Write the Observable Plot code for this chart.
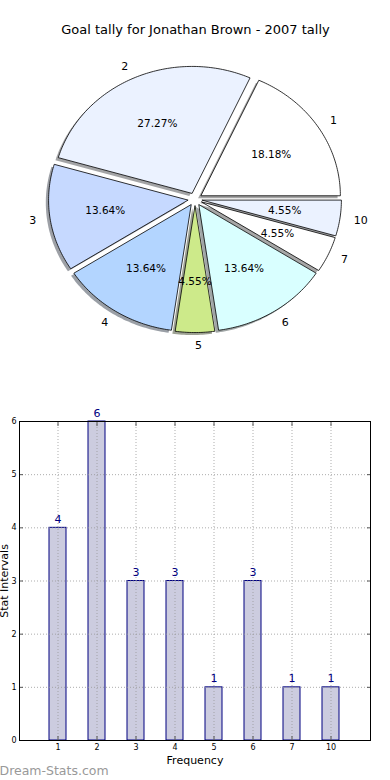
<!DOCTYPE html>
<html><head><meta charset="utf-8">
<script src="https://cdn.jsdelivr.net/npm/d3@7"></script>
<script src="https://cdn.jsdelivr.net/npm/@observablehq/plot@0.6"></script>
<style>body{margin:0;background:#fff;font-family:"DejaVu Sans",sans-serif} svg{display:block}</style>
</head><body><div id="chart"></div>
<script>
const title = "Goal tally for Jonathan Brown - 2007 tally";
const categories = ["1","2","3","4","5","6","7","10"];
const values = [4,6,3,3,1,3,1,1];
const sliceColors = ["#ffffff","#ebf2ff","#c6d9ff","#b3d5ff","#cdea8a","#d9ffff","#ffffff","#ebf2ff"];
const yTicks = [0,1,2,3,4,5,6];
const xLabel = "Frequency";
const yLabel = "Stat Intervals";
const watermark = "Dream-Stats.com";

const total = d3.sum(values);
const explode = 0.05, labelDist = 1.1, pctDist = 0.6, shadowOff = 0.02;
let cum = 0;
const slices = values.map((v, i) => {
  const a0 = cum / total * 2 * Math.PI; cum += v; const a1 = cum / total * 2 * Math.PI;
  const m = (a0 + a1) / 2;
  const ox = explode * Math.cos(m), oy = explode * Math.sin(m);
  const n = Math.max(2, Math.ceil((a1 - a0) / (Math.PI / 180)));
  const pts = [{x: ox, y: oy}];
  for (let k = 0; k <= n; k++) { const a = a0 + (a1 - a0) * k / n; pts.push({x: ox + Math.cos(a), y: oy + Math.sin(a)}); }
  pts.push({x: ox, y: oy});
  return {key: categories[i], value: v, color: sliceColors[i], pts,
    lx: ox + labelDist * Math.cos(m), ly: oy + labelDist * Math.sin(m),
    px: ox + pctDist * Math.cos(m), py: oy + pctDist * Math.sin(m),
    pct: (v / total * 100).toFixed(2) + "%"};
});
const shade = c => { const r = d3.rgb(c); return d3.rgb(r.r * 0.3, r.g * 0.3, r.b * 0.3).formatHex(); };

const W = 390, PH = 370;
const cx = 194.5, cy = 198.7, rx = 139.5, ry = 127;
const font = "DejaVu Sans";

const pie = Plot.plot({
  width: W, height: PH, margin: 0,
  style: {fontFamily: font, background: "#fff", overflow: "visible"},
  x: {domain: [-cx / rx, (W - cx) / rx], axis: null},
  y: {domain: [-(PH - cy) / ry, cy / ry], axis: null},
  marks: [
    ...slices.map(s => Plot.line(s.pts, {x: d => d.x - shadowOff, y: d => d.y - shadowOff, fill: shade(s.color), fillOpacity: 0.5, stroke: "none"})),
    ...slices.map(s => Plot.line(s.pts, {x: "x", y: "y", fill: s.color, stroke: "black", strokeWidth: 0.8, strokeLinejoin: "miter", strokeLinecap: "butt"})),
    Plot.text(slices.filter(s => s.lx > -1e-6), {x: "lx", y: "ly", text: "key", textAnchor: "start", fontSize: 11, fill: "black"}),
    Plot.text(slices.filter(s => s.lx <= -1e-6), {x: "lx", y: "ly", text: "key", textAnchor: "end", fontSize: 11, fill: "black"}),
    Plot.text(slices, {x: "px", y: "py", text: "pct", fontSize: 10.5, fill: "black"}),
    Plot.text([title], {frameAnchor: "top", dy: 29, lineAnchor: "middle", fontSize: 13, fill: "black"})
  ]
});

const bars = categories.map((c, i) => ({cat: c, val: values[i]}));
const BH = 410;
const gridStyle = {stroke: "#999", strokeOpacity: 0.8, strokeDasharray: "1,2", strokeWidth: 1};
const bar = Plot.plot({
  width: W, height: BH, marginTop: 51, marginBottom: 40, marginLeft: 19, marginRight: 20,
  style: {fontFamily: font, background: "#fff", overflow: "visible"},
  x: {type: "band", domain: categories, paddingInner: 0.56, paddingOuter: 0.78, label: null},
  y: {domain: [0, 6], label: null},
  marks: [
    Plot.barY(bars, {x: "cat", y: "val", fill: "#ccccdf", stroke: "#000080", strokeWidth: 1}),
    Plot.gridX(categories, gridStyle),
    Plot.gridY(yTicks.slice(1, -1), gridStyle),
    Plot.axisX({tickSize: 0, tickPadding: 4, fontSize: 8, fill: "black", label: null}),
    Plot.axisX({anchor: "bottom", tickSize: -4, tickFormat: () => "", label: null, stroke: "#555"}),
    Plot.axisX({anchor: "top", tickSize: -4, tickFormat: () => "", label: null, stroke: "#555"}),
    Plot.axisY({ticks: yTicks, tickFormat: d3.format("d"), tickSize: 0, tickPadding: 3, fontSize: 8, fill: "black", label: null}),
    Plot.axisY({ticks: yTicks, anchor: "left", tickSize: -4, tickFormat: () => "", label: null, stroke: "#555"}),
    Plot.axisY({ticks: yTicks, anchor: "right", tickSize: -4, tickFormat: () => "", label: null, stroke: "#555"}),
    Plot.frame({stroke: "black"}),
    Plot.text(bars, {x: "cat", y: "val", text: d => String(d.val), dy: -5, lineAnchor: "bottom", fill: "#000080", fontSize: 11}),
    Plot.text([xLabel], {frameAnchor: "bottom", dy: 20, lineAnchor: "middle", fontSize: 11, fill: "black"}),
    Plot.text([yLabel], {frameAnchor: "left", dx: -15, rotate: -90, textAnchor: "middle", lineAnchor: "middle", fontSize: 11, fill: "black"}),
    Plot.text([watermark], {frameAnchor: "bottom-left", dx: -20, dy: 30, textAnchor: "start", lineAnchor: "middle", fontSize: 12.5, fill: "#999"})
  ]
});

const root = document.getElementById("chart");
root.appendChild(pie);
root.appendChild(bar);
</script>
</body></html>
